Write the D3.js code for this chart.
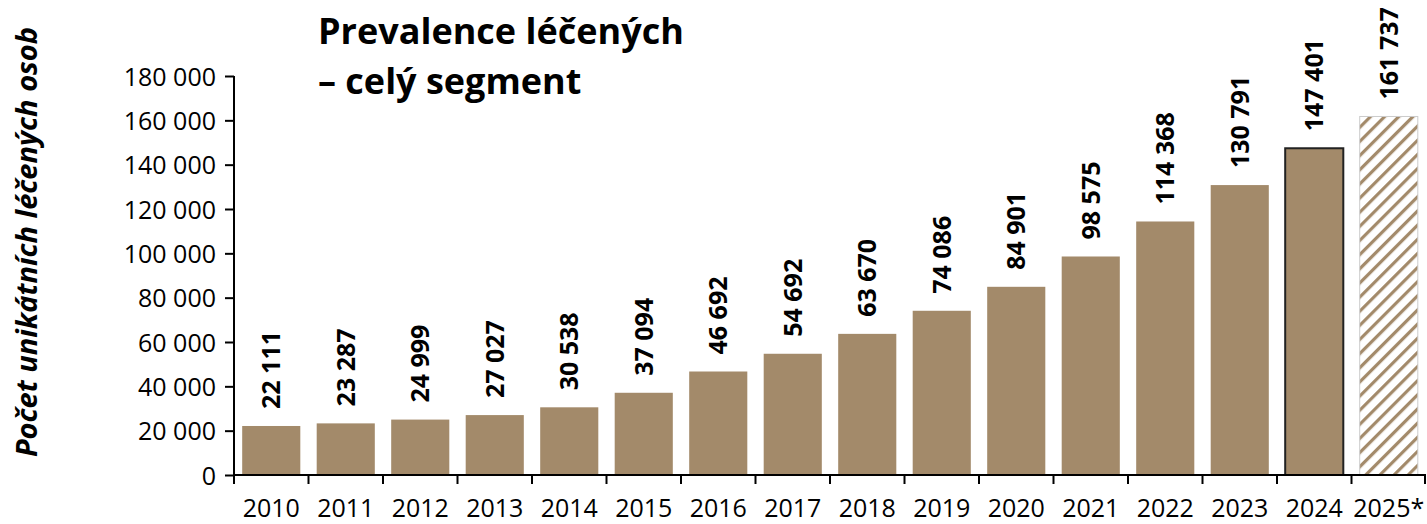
<!DOCTYPE html>
<html lang="cs">
<head>
<meta charset="utf-8">
<title>Prevalence léčených – celý segment</title>
<script src="https://cdnjs.cloudflare.com/ajax/libs/d3/7.8.5/d3.min.js"></script>
<style>
  body { margin: 0; background: #fff; overflow: hidden; }
  text { font-family: "Open Sans", sans-serif; fill: #000; }
</style>
</head>
<body>
<div id="chart"></div>
<script>
// data
const years = ["2010","2011","2012","2013","2014","2015","2016","2017","2018","2019","2020","2021","2022","2023","2024","2025*"];
const patients = [22111, 23287, 24999, 27027, 30538, 37094, 46692, 54692, 63670, 74086, 84901, 98575, 114368, 130791, 147401, 161737];
const yTicks = [0, 20000, 40000, 60000, 80000, 100000, 120000, 140000, 160000, 180000];
const titleLines = ["Prevalence léčených", "– celý segment"];
const yTitle = "Počet unikátních léčených osob";

const w = 1427, h = 524;
const margin = {top: 76, right: 1, bottom: 49, left: 234};
const barColor = "#a38a6a";

const fmt = v => d3.format(",")(v).replace(/,/g, " ");

const svg = d3.select("#chart").append("svg")
  .attr("width", w).attr("height", h)
  .style("display", "block");

// hatch for the estimated year
const pat = svg.append("defs").append("pattern")
  .attr("id", "hatch")
  .attr("patternUnits", "userSpaceOnUse")
  .attr("width", 10).attr("height", 10)
  .attr("patternTransform", "rotate(45)");
pat.append("rect").attr("width", 10).attr("height", 10).attr("fill", "#fff");
pat.append("rect").attr("width", 3.2).attr("height", 10).attr("fill", barColor);

const x = d3.scaleBand()
  .domain(years)
  .range([margin.left, w - margin.right])
  .paddingInner(0.22)
  .paddingOuter(0.11);

const y = d3.scaleLinear()
  .domain([0, 180000])
  .range([h - margin.bottom, margin.top]);

const last = years.length - 1;

// bars
svg.append("g").selectAll("rect")
  .data(years)
  .enter()
  .append("rect")
  .attr("x", d => x(d))
  .attr("width", x.bandwidth())
  .attr("y", (d, i) => y(patients[i]))
  .attr("height", (d, i) => y(0) - y(patients[i]))
  .attr("fill", (d, i) => i == last ? "url(#hatch)" : barColor)
  .attr("stroke", (d, i) => i == last - 1 ? "#222" : (i == last ? "#ccc" : "none"))
  .attr("stroke-width", (d, i) => i == last - 1 ? 2 : 1);

// value labels (rotated)
svg.append("g").selectAll("text")
  .data(years)
  .enter()
  .append("text")
  .attr("transform", (d, i) => "translate(" + (x(d) + x.bandwidth() / 2 + 9) + "," + (y(patients[i]) - 17) + ") rotate(-90)")
  .attr("font-size", 25)
  .attr("font-weight", "bold")
  .text((d, i) => fmt(patients[i]));

// y axis
const yAxis = d3.axisLeft(y)
  .tickValues(yTicks)
  .tickFormat(fmt)
  .tickSizeOuter(0)
  .tickSize(9)
  .tickPadding(9);
const gy = svg.append("g")
  .attr("transform", "translate(" + margin.left + ",0)")
  .call(yAxis);
gy.selectAll("text")
  .attr("font-size", 25)
  .attr("dy", "0.36em")
  .style("font-family", "'Open Sans', sans-serif");
gy.select(".domain").attr("stroke", "#000").attr("stroke-width", 2)
  .attr("d", "M0," + y(180000) + "V" + (y(0) + 9));
gy.selectAll(".tick line").attr("stroke", "#000").attr("stroke-width", 2);

// x axis: ticks between categories like Excel
const step = x.step();
const gx = svg.append("g")
  .attr("transform", "translate(0," + y(0) + ")");
gx.append("line")
  .attr("x1", margin.left).attr("x2", w - margin.right)
  .attr("stroke", "#000").attr("stroke-width", 2);
gx.selectAll(".sep")
  .data(d3.range(1, years.length + 1))
  .enter()
  .append("line")
  .attr("x1", i => margin.left + i * step - (i == years.length ? 1 : 0))
  .attr("x2", i => margin.left + i * step - (i == years.length ? 1 : 0))
  .attr("y1", 0).attr("y2", 9)
  .attr("stroke", "#000").attr("stroke-width", 2);
gx.selectAll(".lab")
  .data(years)
  .enter()
  .append("text")
  .attr("x", d => x(d) + x.bandwidth() / 2)
  .attr("y", 42)
  .attr("text-anchor", "middle")
  .attr("font-size", 25)
  .text(d => d);

// title
svg.append("g").selectAll("text")
  .data(titleLines)
  .enter()
  .append("text")
  .attr("x", 318)
  .attr("y", (d, i) => 44 + i * 50)
  .attr("font-size", 36)
  .attr("font-weight", "bold")
  .text(d => d);

// y axis title
svg.append("text")
  .attr("transform", "translate(37,242) rotate(-90)")
  .attr("text-anchor", "middle")
  .attr("font-size", 29)
  .attr("font-weight", "bold")
  .attr("font-style", "italic")
  .text(yTitle);
</script>
</body>
</html>
